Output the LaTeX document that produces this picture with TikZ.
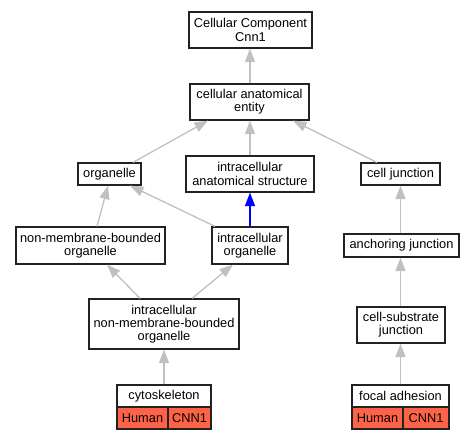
\documentclass[tikz,border=0pt]{standalone}
\usepackage{fontspec}
\setmainfont{Liberation Sans}
\usetikzlibrary{arrows.meta}
\definecolor{edgegray}{HTML}{C0C0C0}
\definecolor{tomatored}{HTML}{FF6347}
\definecolor{boxline}{HTML}{222222}
\tikzset{
  box/.style={draw=boxline, line width=1.2pt, fill=white, inner sep=0pt, align=center,
    font=\fontsize{12.8}{13.2}\selectfont},
  cell/.style={box, fill=tomatored},
  edge/.style={draw=edgegray, line width=1.3pt, -{Triangle[length=13.5pt,width=10pt]}},
  blueedge/.style={edge, draw=blue, -{Triangle[length=13.5pt,width=10pt,fill=blue]}},
}
\begin{document}
\begin{tikzpicture}[x=1pt,y=-1pt]
\useasboundingbox (0,0) rectangle (475,440);
\node[box, minimum width=123pt, minimum height=36pt] (top) at (250.5,30) {Cellular Component\\Cnn1};
\node[box, minimum width=119pt, minimum height=36pt] (cae) at (249.5,102) {cellular anatomical\\entity};
\node[box, minimum width=63pt, minimum height=22pt] (org) at (109.5,174) {organelle};
\node[box, minimum width=128pt, minimum height=36pt] (ias) at (250,174) {intracellular\\anatomical structure};
\node[box, minimum width=79pt, minimum height=22pt] (cj) at (400.5,174) {cell junction};
\node[box, minimum width=149pt, minimum height=37pt] (nmbo) at (90.5,245.5) {non-membrane-bounded\\organelle};
\node[box, minimum width=76pt, minimum height=37pt] (io) at (250,245.5) {intracellular\\organelle};
\node[box, minimum width=115pt, minimum height=23pt] (aj) at (401.5,245.5) {anchoring junction};
\node[box, minimum width=150pt, minimum height=50pt] (inmbo) at (164,324) {intracellular\\non-membrane-bounded\\organelle};
\node[box, minimum width=88pt, minimum height=36pt] (csj) at (401,325) {cell-substrate\\junction};
\node[box, minimum width=94pt, minimum height=22pt] (cyto) at (164,396) {cytoskeleton};
\node[cell, minimum width=51pt, minimum height=22pt] (cytoH) at (142.5,418) {Human};
\node[cell, minimum width=43pt, minimum height=22pt] (cytoC) at (189.5,418) {CNN1};
\node[box, minimum width=97pt, minimum height=22pt] (fa) at (400.5,396) {focal adhesion};
\node[cell, minimum width=51pt, minimum height=22pt] (faH) at (377.5,418) {Human};
\node[cell, minimum width=46pt, minimum height=22pt] (faC) at (426,418) {CNN1};

\draw[edge] ([xshift=0.5pt]cae.north) -- ([xshift=0.5pt]cae.north |- top.south);
\draw[edge] ([xshift=23.5pt]org.north) -- ([xshift=-41.5pt]cae.south);
\draw[edge] (ias.north) -- (ias.north |- cae.south);
\draw[edge] ([xshift=-23.5pt]cj.north) -- ([xshift=43.5pt]cae.south);
\draw[blueedge] (io.north) -- (io.north |- ias.south);
\draw[edge] ([xshift=6.5pt]nmbo.north) -- ([xshift=-1.5pt]org.south);
\draw[edge] ([xshift=-35pt]io.north) -- ([xshift=20.5pt]org.south);
\draw[edge] (cj.south |- aj.north) -- (cj.south);
\draw[edge] (cj.south |- csj.north) -- (cj.south |- aj.south);
\draw[edge] (cj.south |- fa.north) -- (cj.south |- csj.south);
\draw[edge] ([xshift=-24pt]inmbo.north) -- ([xshift=16.5pt]nmbo.south);
\draw[edge] ([xshift=28pt]inmbo.north) -- ([xshift=-17pt]io.south);
\draw[edge] (cyto.north) -- (inmbo.south);
\end{tikzpicture}
\end{document}
